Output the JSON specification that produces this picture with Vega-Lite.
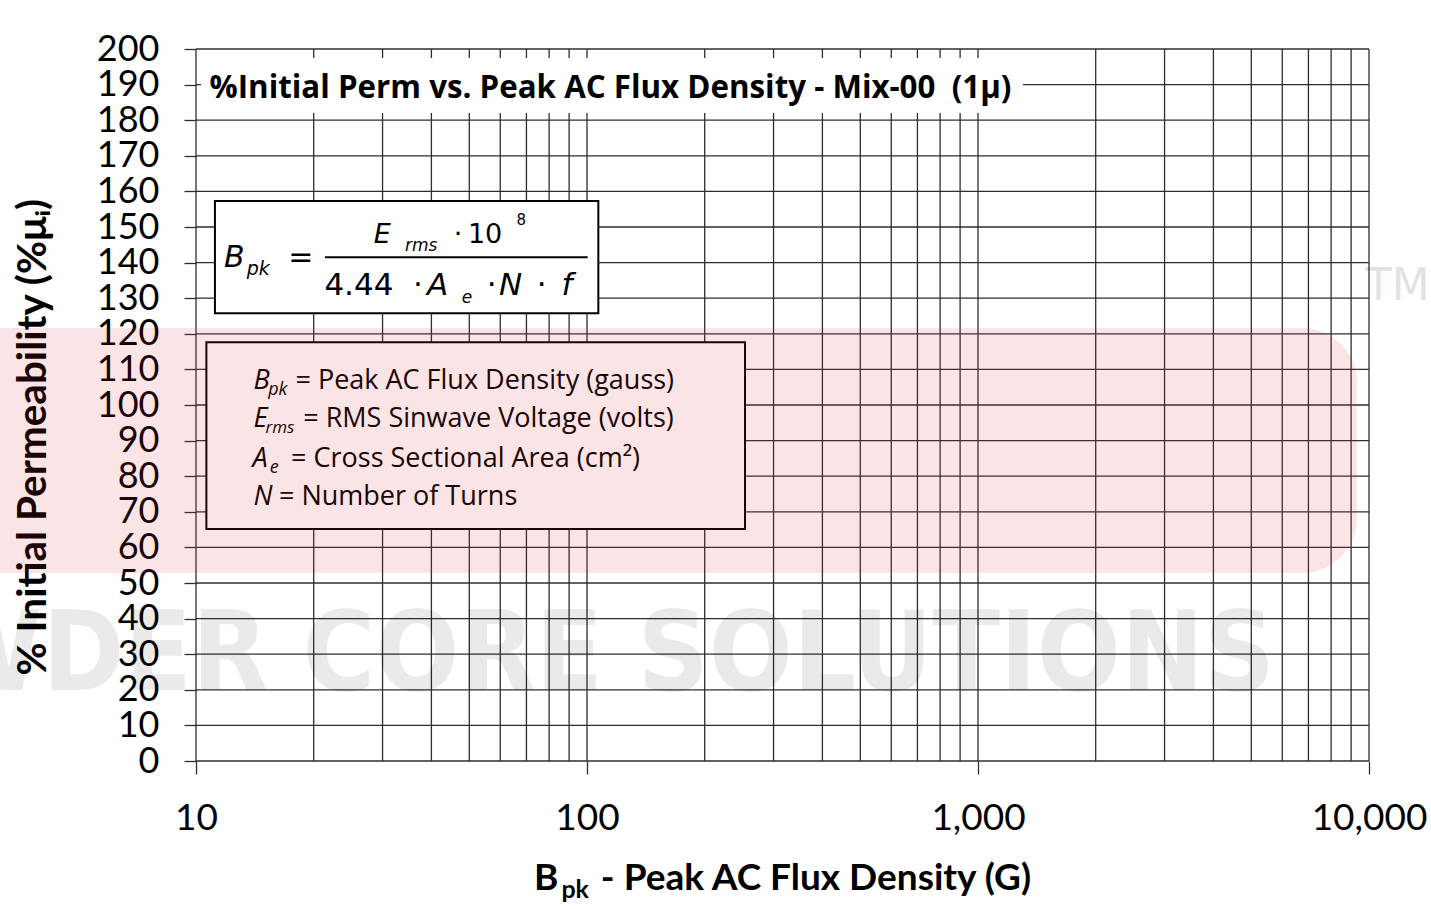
{
  "$schema": "https://vega.github.io/schema/vega-lite/v6.json",
  "width": 1173,
  "height": 712,
  "autosize": "none",
  "padding": {"left": 196, "top": 49, "right": 62, "bottom": 148},
  "background": "white",
  "config": {"view": {"stroke": null}, "font": "Lato", "text": {"color": "#000", "font": "Lato"}, "axis": {"labelOverlap": false}},
  "layer": [
    {
      "data": {"values": [{"v": 0}, {"v": 10}, {"v": 20}, {"v": 30}, {"v": 40}, {"v": 50}, {"v": 60}, {"v": 70}, {"v": 80}, {"v": 90}, {"v": 100}, {"v": 110}, {"v": 120}, {"v": 130}, {"v": 140}, {"v": 150}, {"v": 160}, {"v": 170}, {"v": 180}, {"v": 190}, {"v": 200}]},
      "mark": {"type": "rule", "color": "#2e2e2e", "strokeWidth": 1.3},
      "encoding": {
        "y": {"field": "v", "type": "quantitative",
          "scale": {"type": "linear", "domain": [0, 200], "nice": false, "zero": false},
          "axis": {
            "values": [0,10,20,30,40,50,60,70,80,90,100,110,120,130,140,150,160,170,180,190,200],
            "tickCount": 21,
            "title": null, "domain": false, "grid": false,
            "ticks": true, "tickColor": "#2e2e2e", "tickWidth": 1.3, "tickSize": 12,
            "labelFont": "Lato", "labelFontSize": 36, "labelColor": "#000", "labelPadding": 25,
            "labelFlush": false, "labelOverlap": false, "labelBound": false, "labelSeparation": 0
          }}
      }
    },
    {
      "data": {"values": [{"v": 10}, {"v": 20}, {"v": 30}, {"v": 40}, {"v": 50}, {"v": 60}, {"v": 70}, {"v": 80}, {"v": 90}, {"v": 100}, {"v": 200}, {"v": 300}, {"v": 400}, {"v": 500}, {"v": 600}, {"v": 700}, {"v": 800}, {"v": 900}, {"v": 1000}, {"v": 2000}, {"v": 3000}, {"v": 4000}, {"v": 5000}, {"v": 6000}, {"v": 7000}, {"v": 8000}, {"v": 9000}, {"v": 10000}]},
      "mark": {"type": "rule", "color": "#2e2e2e", "strokeWidth": 1.3},
      "encoding": {
        "x": {"field": "v", "type": "quantitative",
          "scale": {"type": "log", "domain": [10, 10000], "nice": false},
          "axis": {
            "values": [10, 100, 1000, 10000],
            "format": ",",
            "title": null, "domain": false, "grid": false,
            "ticks": true, "tickColor": "#2e2e2e", "tickWidth": 1.3, "tickSize": 13,
            "labelFont": "Lato", "labelFontSize": 37, "labelColor": "#000", "labelPadding": 26,
            "labelFlush": false, "labelOverlap": false, "labelBound": false
          }}
      }
    },
    {
      "data": {"values": [{}]},
      "mark": {"type": "rect", "fill": "white"},
      "encoding": {"x": {"datum": 10.3}, "x2": {"datum": 1303}, "y": {"datum": 197.47}, "y2": {"datum": 182.02}}
    },
    {
      "data": {"values": [{}]},
      "mark": {"type": "text", "text": "%Initial Perm vs. Peak AC Flux Density - Mix-00\u00a0 (1μ)", "font": "Open Sans", "fontWeight": "bold", "fontSize": 31.3, "align": "left", "baseline": "alphabetic"},
      "encoding": {"x": {"datum": 10.83}, "y": {"datum": 186.15}}
    },
    {
      "data": {"values": [{}]},
      "mark": {"type": "rect", "fill": "white", "stroke": "#000", "strokeWidth": 2},
      "encoding": {"x": {"datum": 11.18}, "x2": {"datum": 106.9}, "y": {"datum": 157.3}, "y2": {"datum": 125.76}}
    },
    {"data": {"values": [{}]}, "mark": {"type": "text", "text": "B", "font": "DejaVu Sans", "fontStyle": "italic", "fontSize": 30, "align": "left", "baseline": "alphabetic"}, "encoding": {"x": {"datum": 11.79}, "y": {"datum": 138.85}}},
    {"data": {"values": [{}]}, "mark": {"type": "text", "text": "pk", "font": "DejaVu Sans", "fontStyle": "italic", "fontSize": 19, "align": "left", "baseline": "alphabetic"}, "encoding": {"x": {"datum": 13.48}, "y": {"datum": 136.5}}},
    {"data": {"values": [{}]}, "mark": {"type": "text", "text": "=", "font": "DejaVu Sans", "fontSize": 30, "align": "center", "baseline": "alphabetic"}, "encoding": {"x": {"datum": 18.54}, "y": {"datum": 138.85}}},
    {"data": {"values": [{}]}, "mark": {"type": "rule", "color": "#000", "strokeWidth": 2}, "encoding": {"x": {"datum": 21.38}, "x2": {"datum": 100.4}, "y": {"datum": 141.49}}},
    {"data": {"values": [{}]}, "mark": {"type": "text", "text": "E", "font": "DejaVu Sans", "fontStyle": "italic", "fontSize": 27, "align": "left", "baseline": "alphabetic"}, "encoding": {"x": {"datum": 28.5}, "y": {"datum": 145.42}}},
    {"data": {"values": [{}]}, "mark": {"type": "text", "text": "rms", "font": "DejaVu Sans", "fontStyle": "italic", "fontSize": 17, "align": "left", "baseline": "alphabetic"}, "encoding": {"x": {"datum": 34.23}, "y": {"datum": 143.26}}},
    {"data": {"values": [{}]}, "mark": {"type": "text", "text": "·", "font": "DejaVu Sans", "fontSize": 27, "align": "center", "baseline": "alphabetic"}, "encoding": {"x": {"datum": 46.78}, "y": {"datum": 145.42}}},
    {"data": {"values": [{}]}, "mark": {"type": "text", "text": "10", "font": "DejaVu Sans", "fontSize": 27, "align": "left", "baseline": "alphabetic"}, "encoding": {"x": {"datum": 49.6}, "y": {"datum": 145.42}}},
    {"data": {"values": [{}]}, "mark": {"type": "text", "text": "8", "font": "DejaVu Sans", "fontSize": 15, "align": "left", "baseline": "alphabetic"}, "encoding": {"x": {"datum": 66.0}, "y": {"datum": 150.56}}},
    {"data": {"values": [{}]}, "mark": {"type": "text", "text": "4.44", "font": "DejaVu Sans", "fontSize": 31, "align": "left", "baseline": "alphabetic"}, "encoding": {"x": {"datum": 21.3}, "y": {"datum": 130.9}}},
    {"data": {"values": [{}]}, "mark": {"type": "text", "text": "·", "font": "DejaVu Sans", "fontSize": 31, "align": "center", "baseline": "alphabetic"}, "encoding": {"x": {"datum": 36.96}, "y": {"datum": 130.9}}},
    {"data": {"values": [{}]}, "mark": {"type": "text", "text": "A", "font": "DejaVu Sans", "fontStyle": "italic", "fontSize": 31, "align": "left", "baseline": "alphabetic"}, "encoding": {"x": {"datum": 39.0}, "y": {"datum": 130.9}}},
    {"data": {"values": [{}]}, "mark": {"type": "text", "text": "e", "font": "DejaVu Sans", "fontStyle": "italic", "fontSize": 17, "align": "left", "baseline": "alphabetic"}, "encoding": {"x": {"datum": 47.81}, "y": {"datum": 128.57}}},
    {"data": {"values": [{}]}, "mark": {"type": "text", "text": "·", "font": "DejaVu Sans", "fontSize": 31, "align": "center", "baseline": "alphabetic"}, "encoding": {"x": {"datum": 57.05}, "y": {"datum": 130.9}}},
    {"data": {"values": [{}]}, "mark": {"type": "text", "text": "N", "font": "DejaVu Sans", "fontStyle": "italic", "fontSize": 31, "align": "left", "baseline": "alphabetic"}, "encoding": {"x": {"datum": 59.6}, "y": {"datum": 130.9}}},
    {"data": {"values": [{}]}, "mark": {"type": "text", "text": "·", "font": "DejaVu Sans", "fontSize": 31, "align": "center", "baseline": "alphabetic"}, "encoding": {"x": {"datum": 76.58}, "y": {"datum": 130.9}}},
    {"data": {"values": [{}]}, "mark": {"type": "text", "text": "f", "font": "DejaVu Sans", "fontStyle": "italic", "fontSize": 31, "align": "left", "baseline": "alphabetic"}, "encoding": {"x": {"datum": 86.0}, "y": {"datum": 130.9}}},
    {
      "data": {"values": [{}]},
      "mark": {"type": "rect", "fill": "white", "stroke": "#000", "strokeWidth": 2},
      "encoding": {"x": {"datum": 10.63}, "x2": {"datum": 253.6}, "y": {"datum": 117.61}, "y2": {"datum": 65.17}}
    },
    {"data": {"values": [{}]}, "mark": {"type": "text", "text": "B", "font": "Open Sans", "fontStyle": "italic", "fontSize": 27, "align": "left", "baseline": "alphabetic"}, "encoding": {"x": {"datum": 14.04}, "y": {"datum": 104.41}}},
    {"data": {"values": [{}]}, "mark": {"type": "text", "text": "pk", "font": "Open Sans", "fontStyle": "italic", "fontSize": 18, "align": "left", "baseline": "alphabetic"}, "encoding": {"x": {"datum": 15.3}, "y": {"datum": 102.81}}},
    {"data": {"values": [{}]}, "mark": {"type": "text", "text": "= Peak AC Flux Density (gauss)", "font": "Open Sans", "fontSize": 27, "align": "left", "baseline": "alphabetic"}, "encoding": {"x": {"datum": 17.96}, "y": {"datum": 104.41}}},
    {"data": {"values": [{}]}, "mark": {"type": "text", "text": "E", "font": "Open Sans", "fontStyle": "italic", "fontSize": 27, "align": "left", "baseline": "alphabetic"}, "encoding": {"x": {"datum": 14.04}, "y": {"datum": 93.9}}},
    {"data": {"values": [{}]}, "mark": {"type": "text", "text": "rms", "font": "Open Sans", "fontStyle": "italic", "fontSize": 17, "align": "left", "baseline": "alphabetic"}, "encoding": {"x": {"datum": 15.05}, "y": {"datum": 92.13}}},
    {"data": {"values": [{}]}, "mark": {"type": "text", "text": "= RMS Sinwave Voltage (volts)", "font": "Open Sans", "fontSize": 27, "align": "left", "baseline": "alphabetic"}, "encoding": {"x": {"datum": 18.8}, "y": {"datum": 93.9}}},
    {"data": {"values": [{}]}, "mark": {"type": "text", "text": "A", "font": "Open Sans", "fontStyle": "italic", "fontSize": 27, "align": "left", "baseline": "alphabetic"}, "encoding": {"x": {"datum": 13.95}, "y": {"datum": 82.67}}},
    {"data": {"values": [{}]}, "mark": {"type": "text", "text": "e", "font": "Open Sans", "fontStyle": "italic", "fontSize": 18, "align": "left", "baseline": "alphabetic"}, "encoding": {"x": {"datum": 15.45}, "y": {"datum": 80.81}}},
    {"data": {"values": [{}]}, "mark": {"type": "text", "text": "= Cross Sectional Area (cm²)", "font": "Open Sans", "fontSize": 27, "align": "left", "baseline": "alphabetic"}, "encoding": {"x": {"datum": 17.5}, "y": {"datum": 82.67}}},
    {"data": {"values": [{}]}, "mark": {"type": "text", "text": "N", "font": "Open Sans", "fontStyle": "italic", "fontSize": 27, "align": "left", "baseline": "alphabetic"}, "encoding": {"x": {"datum": 14.04}, "y": {"datum": 71.91}}},
    {"data": {"values": [{}]}, "mark": {"type": "text", "text": "= Number of Turns", "font": "Open Sans", "fontSize": 27, "align": "left", "baseline": "alphabetic"}, "encoding": {"x": {"datum": 16.3}, "y": {"datum": 71.91}}},
    {"data": {"values": [{}]}, "mark": {"type": "text", "text": "B", "fontWeight": "bold", "fontSize": 37, "align": "left", "baseline": "alphabetic"}, "encoding": {"x": {"datum": 73.18}, "y": {"datum": -36.24}}},
    {"data": {"values": [{}]}, "mark": {"type": "text", "text": "pk", "fontWeight": "bold", "fontSize": 25, "align": "left", "baseline": "alphabetic"}, "encoding": {"x": {"datum": 86.0}, "y": {"datum": -38.4}}},
    {"data": {"values": [{}]}, "mark": {"type": "text", "text": "- Peak AC Flux Density (G)", "fontWeight": "bold", "fontSize": 37, "align": "left", "baseline": "alphabetic"}, "encoding": {"x": {"datum": 108.5}, "y": {"datum": -36.24}}},
    {"data": {"values": [{}]}, "mark": {"type": "text", "text": "% Initial Permeability (%μᵢ)", "fontWeight": "bold", "fontSize": 40.5, "angle": 270, "align": "center", "baseline": "alphabetic"}, "encoding": {"x": {"datum": 4.146}, "y": {"datum": 90.95}}},
    {
      "data": {"values": [{}]},
      "mark": {"type": "rect", "fill": "#e0212b", "opacity": 0.12, "cornerRadius": 55},
      "encoding": {"x": {"datum": 2.214}, "x2": {"datum": 9318}, "y": {"datum": 121.63}, "y2": {"datum": 52.81}}
    },
    {"data": {"values": [{}]}, "mark": {"type": "text", "text": "POWDER CORE SOLUTIONS", "font": "DejaVu Sans Condensed", "fontWeight": "bold", "fontSize": 110, "color": "#000", "opacity": 0.08, "align": "right", "baseline": "alphabetic"}, "encoding": {"x": {"datum": 5749}, "y": {"datum": 19.94}}},
    {"data": {"values": [{}]}, "mark": {"type": "text", "text": "TM", "font": "DejaVu Sans", "fontSize": 44, "color": "#000", "opacity": 0.11, "align": "left", "baseline": "alphabetic"}, "encoding": {"x": {"datum": 9767}, "y": {"datum": 129.5}}}
  ]
}
